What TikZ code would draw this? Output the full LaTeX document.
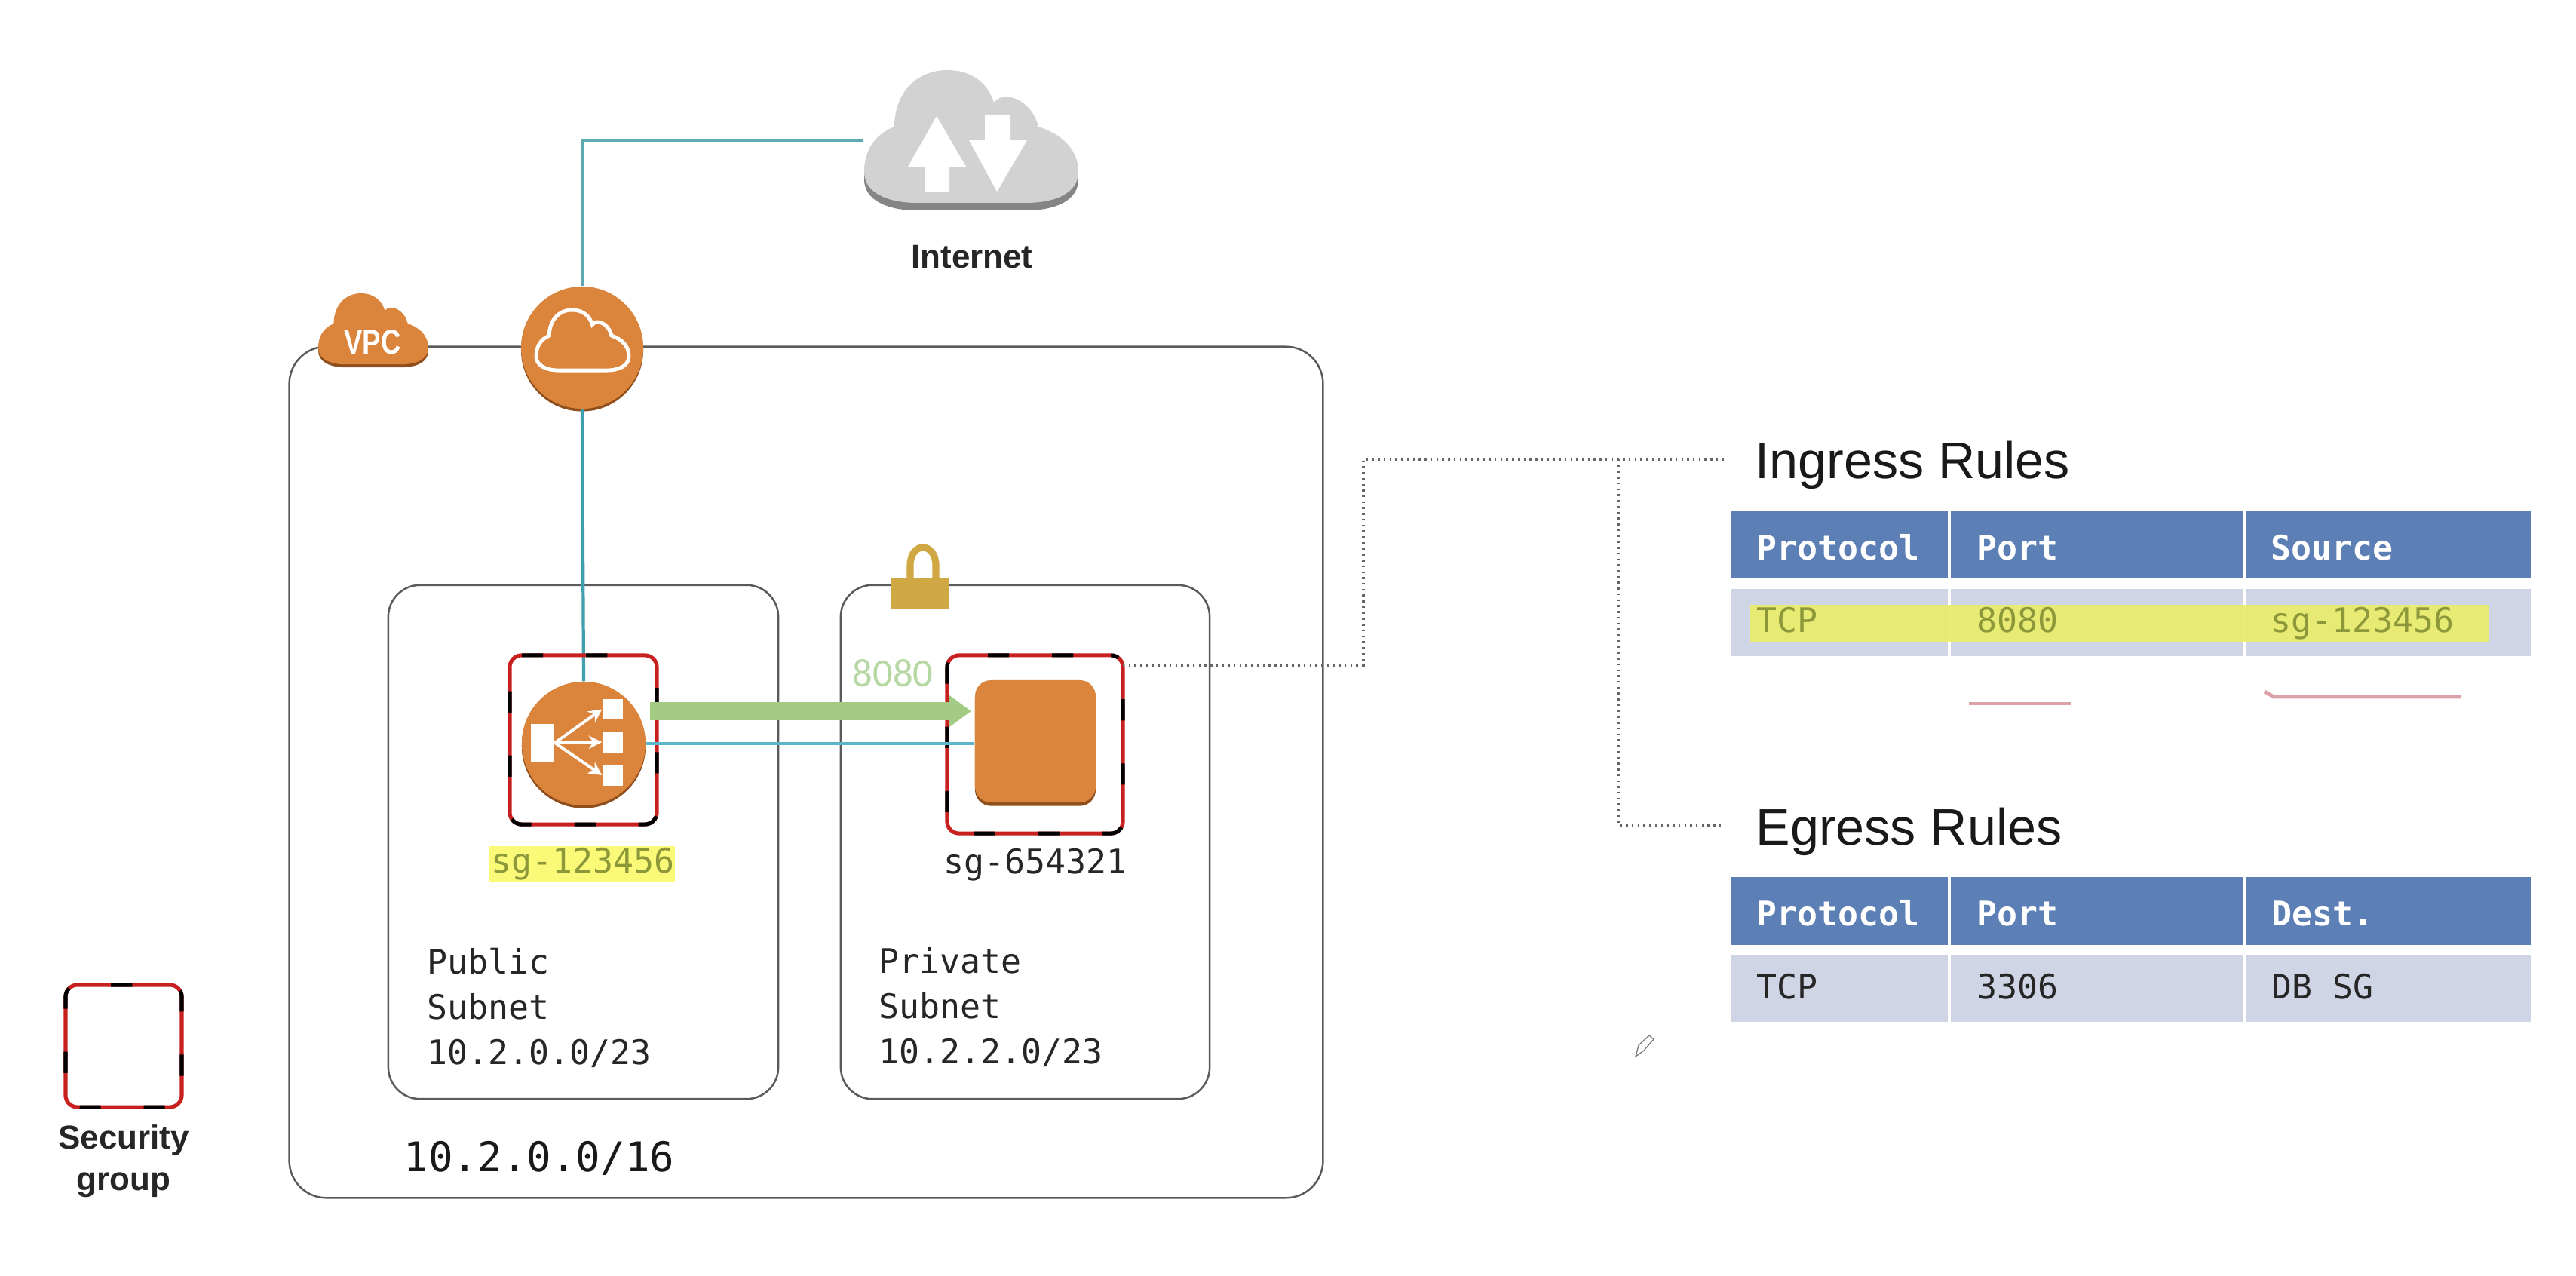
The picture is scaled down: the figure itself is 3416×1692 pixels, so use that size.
\documentclass[tikz,border=0pt]{standalone}
\usepackage{fontspec}
\setmainfont{Liberation Sans}
\newfontfamily\cmono{DejaVu Sans Mono}
\newfontfamily\ccarl{Carlito}
\usetikzlibrary{arrows.meta,shadows,calc}
\definecolor{awsor}{HTML}{DB843C}
\definecolor{awsdk}{HTML}{8F4F1C}
\definecolor{cloudg}{HTML}{D2D2D2}
\definecolor{cloudd}{HTML}{858585}
\definecolor{tealA}{HTML}{5CA9B2}
\definecolor{tealB}{HTML}{3F9FAE}
\definecolor{tealC}{HTML}{5AB6CB}
\definecolor{gridg}{HTML}{5A5A5A}
\definecolor{sgred}{HTML}{C8201E}
\definecolor{grn}{HTML}{A3CB84}
\definecolor{grnt}{HTML}{B7D8A4}
\definecolor{lockc}{HTML}{CFA844}
\definecolor{hdr}{HTML}{5C7FB5}
\definecolor{rowc}{HTML}{CFD5E5}
\definecolor{hilite}{HTML}{E9EC6B}
\definecolor{hilB}{HTML}{FAFA78}
\definecolor{olive}{HTML}{8C983A}
\definecolor{undl}{HTML}{DCA2A7}
\definecolor{dotc}{HTML}{666666}
\newcommand{\cloudshape}{(0,135) .. controls (0,105) and (15,85) .. (40,75)
 .. controls (40,30) and (70,0) .. (110,0) .. controls (145,0) and (165,20) .. (172,43)
 .. controls (178,36) and (185,34) .. (194,36) .. controls (212,40) and (226,55) .. (231,75)
 .. controls (262,85) and (284,105) .. (284,135) .. controls (284,162) and (255,176) .. (215,176)
 -- (70,176) .. controls (30,176) and (0,162) .. (0,135) -- cycle}
\tikzset{
 boxline/.style={draw=gridg,line width=.7pt,rounded corners=12pt,inner sep=0,fill=none},
 sgbox/.style={draw=sgred,line width=1.45pt,rounded corners=4.5pt,inner sep=0,
   postaction={draw=black,dash pattern=on 8pt off 16.2pt,dash phase=10pt}},
 awscirc/.style={circle,fill=awsor,inner sep=0,general shadow={fill=awsdk,shadow yshift=-1pt}},
 monotxt/.style={inner sep=0,font=\cmono\fontsize{12.75}{17.07}\selectfont},
 hdrtxt/.style={monotxt,anchor=base west,text=white,font=\cmono\bfseries\fontsize{12.75}{17.07}\selectfont},
 celltxt/.style={monotxt,anchor=base west,text=black!85},
 hiltxt/.style={monotxt,anchor=base west,text=olive},
 hdrcell/.style={fill=hdr,inner sep=0,minimum height=.89cm},
 rowcell/.style={fill=rowc,inner sep=0,minimum height=.89cm},
 sanslab/.style={inner sep=0,font=\bfseries\fontsize{12.5}{15.6}\selectfont,text=black!85,align=center},
 ruletitle/.style={inner sep=0,anchor=base west,font=\fontsize{19.4}{23}\selectfont,text=black!90},
 teal1/.style={line width=1.3pt,draw=tealA},
 dotted line/.style={draw=dotc,line width=1pt,dash pattern=on .7pt off 1.5pt},
 undline/.style={draw=undl,line width=1.4pt},
 lbrect/.style={fill=white,inner sep=0},
 lbarrow/.style={draw=white,line width=1.1pt,-{Stealth[length=5pt,width=5pt]}},
}
\begin{document}
\begin{tikzpicture}[x=0.01cm,y=-0.01cm]
\useasboundingbox[fill=white] (0,0) rectangle (3416,1692);
% containers
\node[boxline,rounded corners=14pt,minimum width=13.7cm,minimum height=11.28cm] (vpc) at (1069,1024) {};
\node[boxline,minimum width=5.17cm,minimum height=6.81cm] (pub) at (773.5,1116.5) {};
\node[boxline,minimum width=4.89cm,minimum height=6.81cm] (priv) at (1359.5,1116.5) {};
% named endpoints
\node[inner sep=0,minimum width=2.84cm,minimum height=1.86cm] (inet) at (1288,186) {};
\node[awscirc,minimum size=1.62cm] (igw) at (772,461) {};
\node[awscirc,minimum size=1.64cm] (lb) at (774,986) {};
% teal connectors
\draw[teal1] (igw.north) |- (inet.west);
\draw[line width=1.2pt,draw=tealB] (igw.south) -- (lb.north);
% internet cloud
\begin{scope}[shift={(1146,103)}]
 \fill[cloudd] \cloudshape;
\end{scope}
\begin{scope}[shift={(1146,93)}]
 \fill[cloudg] \cloudshape;
\end{scope}
\fill[white] (1242,154) -- (1281,221) -- (1259,221) -- (1259,255) -- (1226,255) -- (1226,221) -- (1204,221) -- cycle;
\fill[white] (1306,152) -- (1340,152) -- (1340,186) -- (1362,186) -- (1322,254) -- (1285,186) -- (1306,186) -- cycle;
\node[sanslab] (inetlabel) at (1289,341) {Internet};
% VPC cloud
\begin{scope}[shift={(422,393)},xscale=.514,yscale=.535]
 \fill[awsdk] \cloudshape;
\end{scope}
\begin{scope}[shift={(422,389)},xscale=.514,yscale=.535]
 \fill[awsor] \cloudshape;
\end{scope}
\node[inner sep=0,text=white,font=\bfseries\fontsize{13}{15}\selectfont,xscale=.8,transform shape] (vpclabel) at (494,454) {VPC};
% IGW cloud outline
\begin{scope}[shift={(711,411)},xscale=.433,yscale=.455]
 \draw[white,line width=1.4pt] \cloudshape;
\end{scope}
% security groups
\node[sgbox,minimum width=1.95cm,minimum height=2.24cm] (sg1) at (773.5,981) {};
\node[sgbox,minimum width=2.33cm,minimum height=2.36cm] (sg2) at (1372.5,987) {};
\node[sgbox,minimum width=1.54cm,minimum height=1.62cm] (sglegend) at (164,1387) {};
% redraw lb above sg
\node[awscirc,minimum size=1.64cm] (lbtop) at (774,986) {};
% lb icon
\node[lbrect,minimum width=.31cm,minimum height=.5cm] (lbsrc) at (719.5,985) {};
\node[lbrect,minimum width=.27cm,minimum height=.27cm] (lbA) at (812.5,940.5) {};
\node[lbrect,minimum width=.27cm,minimum height=.28cm] (lbB) at (812.5,984) {};
\node[lbrect,minimum width=.27cm,minimum height=.28cm] (lbC) at (812.5,1028) {};
\draw[lbarrow] (lbsrc.east) -- (lbA.west);
\draw[lbarrow] (lbsrc.east) -- (lbB.west);
\draw[lbarrow] (lbsrc.east) -- (lbC.west);
% instance and connectors
\node[fill=awsor,inner sep=0,rounded corners=6pt,minimum width=1.6cm,minimum height=1.62cm,
  general shadow={fill=awsdk,shadow yshift=-1.3pt}] (inst) at (1373,983) {};
\draw[line width=1.4pt,draw=tealC] (lbtop.east) -- (lbtop.east -| inst.west);
\coordinate (gstart) at (862,943);
\coordinate (gend) at (1288,943);
\draw[draw=grn,line width=6.83pt,-{Triangle[length=8.5pt,width=11.7pt]}] (gstart) -- (gend);
\node[inner sep=0,text=grnt,font=\ccarl\fontsize{15}{18}\selectfont] (port) at (1184,893) {8080};
% lock
\draw[lockc,line width=2.6pt] (1207,770) -- (1207,750) .. controls (1207,718) and (1241,718) .. (1241,750) -- (1241,770);
\node[fill=lockc,inner sep=0,minimum width=.76cm,minimum height=.41cm] (lockbody) at (1220,786.5) {};
% labels
\node[fill=hilB,inner sep=0,minimum width=2.47cm,minimum height=.48cm] (sgAbg) at (771.5,1146) {};
\node[hiltxt] (sgAtxt) at (651,1157) {sg-123456};
\node[celltxt] (sgBtxt) at (1251,1158) {sg-654321};
\node[monotxt,anchor=north west,align=left,text=black!85] (publab) at (566,1256) {Public\\Subnet\\10.2.0.0/23};
\node[monotxt,anchor=north west,align=left,text=black!85] (privlab) at (1165,1256) {Private\\Subnet\\10.2.2.0/23};
\node[inner sep=0,anchor=base west,text=black!90,font=\cmono\fontsize{15.4}{18}\selectfont] (vpclab) at (535,1553) {10.2.0.0/16};
\node[sanslab] (sglab) at (164,1540) {Security\\group};
% dotted links
\coordinate (dotA) at (1489,882);
\coordinate (dotB) at (1808,882);
\coordinate (dotC) at (1808,609);
\coordinate (dotJ) at (2146,609);
\coordinate (dotD) at (2292,609);
\coordinate (dotE) at (2146,1094);
\coordinate (dotF) at (2287,1094);
\draw[dotted line] (dotA) -- (dotB) -- (dotC) -- (dotD);
\draw[dotted line] (dotJ) -- (dotE) -- (dotF);
% ingress table
\node[ruletitle] (ingress) at (2327,635) {Ingress Rules};
\node[hdrcell,minimum width=2.88cm] (h1a) at (2439,722.5) {};
\node[hdrcell,minimum width=3.87cm] (h1b) at (2780.5,722.5) {};
\node[hdrcell,minimum width=3.78cm] (h1c) at (3167,722.5) {};
\node[rowcell,minimum width=2.88cm] (r1a) at (2439,825.5) {};
\node[rowcell,minimum width=3.87cm] (r1b) at (2780.5,825.5) {};
\node[rowcell,minimum width=3.78cm] (r1c) at (3167,825.5) {};
\node[fill=hilite,fill opacity=.93,inner sep=0,minimum width=9.79cm,minimum height=.49cm] (hl) at (2810.5,826.5) {};
\node[hdrtxt] (t1a) at (2329,743) {Protocol};
\node[hdrtxt] (t1b) at (2621,743) {Port};
\node[hdrtxt] (t1c) at (3011,743) {Source};
\node[hiltxt] (v1a) at (2329,838) {TCP};
\node[hiltxt] (v1b) at (2621,838) {8080};
\node[hiltxt] (v1c) at (3011,838) {sg-123456};
\draw[undline] (2611,933) -- (2746,933);
\draw[undline] (3003,917) -- (3015,924) -- (3264,924);
% egress table
\node[ruletitle] (egress) at (2328,1120) {Egress Rules};
\node[hdrcell,minimum width=2.88cm] (h2a) at (2439,1208) {};
\node[hdrcell,minimum width=3.87cm] (h2b) at (2780.5,1208) {};
\node[hdrcell,minimum width=3.78cm] (h2c) at (3167,1208) {};
\node[rowcell,minimum width=2.88cm] (r2a) at (2439,1310.5) {};
\node[rowcell,minimum width=3.87cm] (r2b) at (2780.5,1310.5) {};
\node[rowcell,minimum width=3.78cm] (r2c) at (3167,1310.5) {};
\node[hdrtxt] (t2a) at (2329,1227) {Protocol};
\node[hdrtxt] (t2b) at (2621,1227) {Port};
\node[hdrtxt] (t2c) at (3012,1227) {Dest.};
\node[celltxt] (v2a) at (2329,1324) {TCP};
\node[celltxt] (v2b) at (2621,1324) {3306};
\node[celltxt] (v2c) at (3012,1324) {DB SG};
% pencil
\draw[draw=black!55,fill=white,line width=.35pt] (2169,1401) -- (2173,1386) -- (2187,1373) -- (2193,1378) -- (2180,1393) -- cycle;
\end{tikzpicture}
\end{document}
